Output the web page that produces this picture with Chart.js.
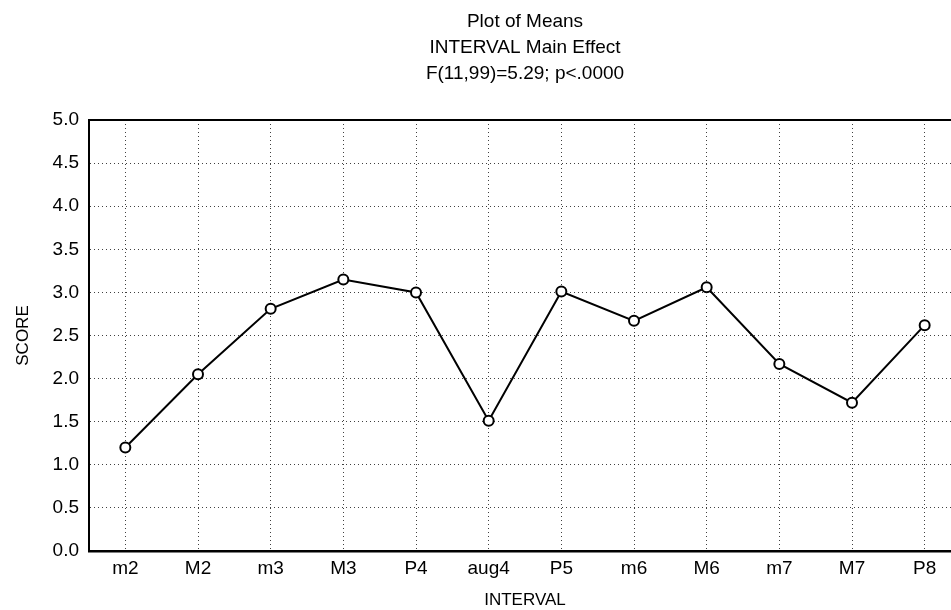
<!DOCTYPE html>
<html>
<head>
<meta charset="utf-8">
<script src="https://cdn.jsdelivr.net/npm/chart.js@4"></script>
<style>
  html, body { margin: 0; padding: 0; background: #fff; overflow: hidden; }
  #wrap { width: 975px; height: 610px; }
</style>
</head>
<body>
<div id="wrap"><canvas id="myChart" width="975" height="610"></canvas></div>
<script>
const intervals = ['m2', 'M2', 'm3', 'M3', 'P4', 'aug4', 'P5', 'm6', 'M6', 'm7', 'M7', 'P8'];
const meanScores = [1.20, 2.05, 2.81, 3.15, 3.00, 1.51, 3.01, 2.67, 3.06, 2.17, 1.72, 2.62];
const titleLines = ['Plot of Means', 'INTERVAL Main Effect', 'F(11,99)=5.29; p<.0000'];

const FONT = '"Liberation Sans", Arial, sans-serif';

// title block + top frame line, centred on the plot area
const frameTitle = {
    id: 'frameTitle',
    afterDraw(chart) {
        const { ctx, chartArea } = chart;
        ctx.save();
        ctx.strokeStyle = '#000';
        ctx.lineWidth = 2;
        ctx.beginPath();
        ctx.moveTo(chartArea.left, chartArea.top);
        ctx.lineTo(chartArea.right, chartArea.top);
        ctx.stroke();

        ctx.fillStyle = '#000';
        ctx.font = '19px ' + FONT;
        ctx.textAlign = 'center';
        ctx.textBaseline = 'middle';
        const cx = (chartArea.left + chartArea.right) / 2;
        titleLines.forEach((t, i) => ctx.fillText(t, cx, 22 + i * 26));
        ctx.restore();
    }
};

const ctx = document.getElementById('myChart').getContext('2d');
const myChart = new Chart(ctx, {
    type: 'line',
    data: {
        labels: intervals,
        datasets: [{
            data: meanScores,
            borderColor: '#000',
            borderWidth: 2,
            pointRadius: 5,
            pointBorderWidth: 2,
            pointBackgroundColor: '#fff',
            pointBorderColor: '#000',
            tension: 0,
            fill: false
        }]
    },
    options: {
        responsive: false,
        animation: false,
        layout: { padding: { top: 120, right: 14, left: 9, bottom: 0 } },
        plugins: {
            legend: { display: false },
            tooltip: { enabled: false }
        },
        scales: {
            x: {
                offset: true,
                grid: {
                    offset: false,
                    color: 'rgba(0,0,0,0.75)',
                    lineWidth: 1,
                    drawTicks: false
                },
                border: { display: true, color: '#000', width: 2.5, dash: [1, 3] },
                ticks: { color: '#000', font: { family: FONT, size: 19 }, padding: 6, autoSkip: false, maxRotation: 0 },
                title: { display: true, text: 'INTERVAL', color: '#000', font: { family: FONT, size: 17 }, padding: { top: 4, bottom: -1 } },
                afterFit(scale) { scale.height = 59; }
            },
            y: {
                min: 0,
                max: 5,
                ticks: {
                    stepSize: 0.5,
                    color: '#000',
                    font: { family: FONT, size: 19 },
                    padding: 10,
                    callback: v => v.toFixed(1)
                },
                grid: {
                    color: 'rgba(0,0,0,0.75)',
                    lineWidth: 1,
                    drawTicks: false
                },
                border: { display: true, color: '#000', width: 2, dash: [1, 3] },
                title: { display: true, text: 'SCORE', color: '#000', font: { family: FONT, size: 17 } },
                afterFit(scale) { scale.width = 80; }
            }
        }
    },
    plugins: [frameTitle]
});
</script>
</body>
</html>
